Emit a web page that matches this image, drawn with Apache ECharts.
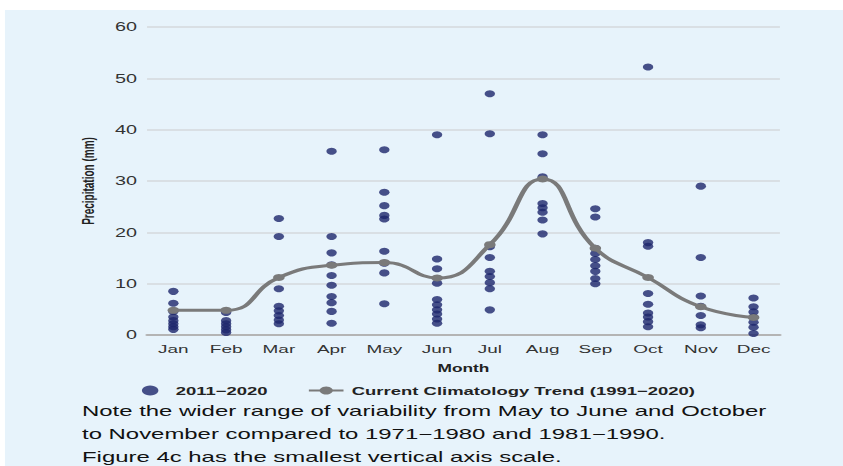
<!DOCTYPE html>
<html><head><meta charset="utf-8">
<script src="https://cdn.jsdelivr.net/npm/echarts@6/dist/echarts.min.js"></script>
<style>
html,body{margin:0;padding:0;background:#fff;overflow:hidden;width:843px;height:466px}
#c{width:511px;height:466px;transform:scaleX(1.65);transform-origin:0 0}
</style>
</head><body><div id="c"></div>
<script>
const months = ['Jan','Feb','Mar','Apr','May','Jun','Jul','Aug','Sep','Oct','Nov','Dec'];
const yTicks = [0,10,20,30,40,50,60];
const obsJan = [8.5, 6.2, 4.6, 3.5, 2.8, 2.2, 1.6, 1.1];
const obsFeb = [4.4, 2.8, 2.2, 1.6, 1.0, 0.5];
const obsMar = [22.7, 19.2, 9.0, 5.6, 4.7, 3.8, 2.9, 2.2];
const obsApr = [35.8, 19.2, 16.0, 13.7, 11.6, 9.7, 7.5, 6.3, 4.6, 2.3];
const obsMay = [36.1, 27.8, 25.2, 23.3, 22.6, 16.3, 14.0, 12.1, 6.1];
const obsJun = [39.0, 14.8, 12.9, 10.1, 6.9, 5.9, 4.9, 4.1, 3.1, 2.3];
const obsJul = [47.0, 39.2, 17.2, 15.1, 12.4, 11.4, 10.2, 9.0, 4.9];
const obsAug = [39.0, 35.3, 30.8, 25.6, 24.8, 23.9, 22.4, 19.7];
const obsSep = [24.6, 23.0, 16.9, 15.9, 14.7, 13.5, 12.4, 11.0, 10.0];
const obsOct = [52.2, 18.0, 17.3, 8.1, 6.0, 4.3, 3.5, 2.6, 1.6];
const obsNov = [29.0, 15.1, 7.6, 5.6, 3.8, 2.0, 1.4];
const obsDec = [7.2, 5.5, 4.5, 3.5, 2.5, 1.5, 0.3];
const trend = [4.8, 4.8, 11.2, 13.6, 14.1, 11.1, 17.6, 30.4, 16.9, 11.2, 5.5, 3.4];
const noteLines = [
  'Note the wider range of variability from May to June and October',
  'to November compared to 1971\u22121980 and 1981\u22121990.',
  'Figure 4c has the smallest vertical axis scale.'
];

const obsAll = [obsJan,obsFeb,obsMar,obsApr,obsMay,obsJun,obsJul,obsAug,obsSep,obsOct,obsNov,obsDec];
const scatterData = [];
obsAll.forEach((arr,i)=>arr.forEach(v=>scatterData.push([months[i], v])));

const chart = echarts.init(document.getElementById('c'), null, {renderer:'svg'});
const font = 'Liberation Sans, Arial, sans-serif';
chart.setOption({
  animation:false,
  backgroundColor:'#ffffff',
  textStyle:{fontFamily:font},
  graphic:[
    {type:'rect', z:-10, silent:true, shape:{x:3,y:10,width:520,height:460}, style:{fill:'#e7f3fb'}},
    ...noteLines.map((t,i)=>({type:'text', left:49.7, top:403.5+i*22.7, style:{text:t, font:'14.5px '+font, fill:'#111'}}))
  ],
  grid:{left:89.1, right:38.3, top:27, bottom:131},
  legend:{
    left:81, top:380, itemGap:24, itemWidth:21, itemHeight:10,
    textStyle:{fontSize:11.2, fontWeight:'bold', color:'#222', fontFamily:font},
    data:[{name:'2011\u22122020', icon:'circle'}, {name:'Current Climatology Trend (1991\u22122020)'}]
  },
  xAxis:{
    type:'category', data:months, boundaryGap:true,
    name:'Month', nameLocation:'middle', nameGap:28,
    nameTextStyle:{fontSize:10.5, fontWeight:'bold', color:'#222'},
    axisLine:{lineStyle:{color:'#b4b4b4', width:2}},
    axisTick:{show:false},
    axisLabel:{fontSize:11.5, color:'#333', margin:8}
  },
  yAxis:{
    type:'value', min:0, max:60, interval:10,
    name:'Precipitation (mm)', nameLocation:'middle', nameGap:30, nameRotate:90,
    nameTextStyle:{fontSize:10, fontWeight:'bold', color:'#222'},
    axisLine:{show:false}, axisTick:{show:false},
    axisLabel:{fontSize:12, color:'#333', margin:6, formatter:v=>yTicks.includes(v)?String(v):''},
    splitLine:{lineStyle:{color:'#d5d9dc', width:1.5}}
  },
  series:[
    {name:'2011\u22122020', type:'scatter', data:scatterData, symbol:'circle', symbolSize:[6.3,7],
     itemStyle:{color:'#1d266b'}, z:2},
    {name:'Current Climatology Trend (1991\u22122020)', type:'line', data:trend, smooth:0.5,
     symbol:'circle', symbolSize:7, showSymbol:true,
     lineStyle:{color:'#7a7a7a', width:3}, itemStyle:{color:'#7a7a7a'}, z:3}
  ]
});
</script></body></html>
